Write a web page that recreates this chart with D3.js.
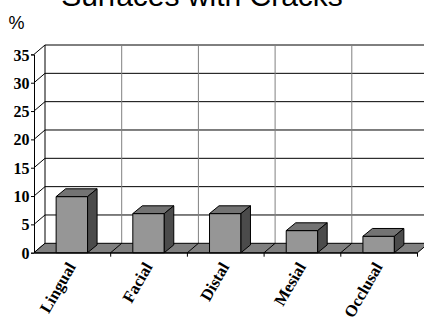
<!DOCTYPE html>
<html>
<head>
<meta charset="utf-8">
<script src="https://cdn.jsdelivr.net/npm/d3@7"></script>
<style>
  html, body { margin: 0; padding: 0; background: #fff; }
  svg { display: block; }
</style>
</head>
<body>
<svg id="chart" width="424" height="322"></svg>
<script>
// Share of surfaces with cracks, by tooth surface
const categories = ["Lingual", "Facial", "Distal", "Mesial", "Occlusal"];
const values = [9.9, 6.9, 6.9, 3.9, 2.9];
const yTicks = [0, 5, 10, 15, 20, 25, 30, 35];

const svg = d3.select("#chart");

// front plane of the pseudo-3D box
const x = d3.scaleBand().domain(categories).range([34, 417.5]).paddingInner(0).paddingOuter(0);
const y = d3.scaleLinear().domain([0, 35]).range([252.7, 54.4]);

// depth offsets (floor / wall depth and bar depth)
const DX = 11, DY = -9.4;
const BDX = 9.5, BDY = -7.8;
const barW = x.bandwidth() * 0.41;

// title and unit
svg.append("text")
  .attr("x", 202).attr("y", 6)
  .attr("text-anchor", "middle")
  .style("font-family", "'Liberation Sans', Arial, sans-serif")
  .style("font-size", "30px")
  .text("Surfaces with Cracks");

svg.append("text")
  .attr("x", 8.5).attr("y", 29)
  .style("font-family", "'Liberation Sans', Arial, sans-serif")
  .style("font-size", "18px")
  .text("%");

const g = svg.append("g");

// back wall horizontal gridlines
const x0b = x.range()[0] + DX, x1b = x.range()[1] + DX;
g.selectAll("line.hgrid").data(yTicks.filter(d => d > 0)).join("line")
  .attr("x1", x0b).attr("x2", x1b)
  .attr("y1", d => y(d) + DY).attr("y2", d => y(d) + DY)
  .attr("stroke", "#000").attr("stroke-width", 1);

// back wall vertical gridlines at category boundaries
const bounds = categories.map(c => x(c)).concat([x.range()[1]]);
g.selectAll("line.vgrid").data(bounds.slice(1)).join("line")
  .attr("x1", d => d + DX).attr("x2", d => d + DX)
  .attr("y1", y(35) + DY).attr("y2", y(0) + DY)
  .attr("stroke", "#808080").attr("stroke-width", 1);

// back wall left edge
g.append("line")
  .attr("x1", x0b).attr("x2", x0b)
  .attr("y1", y(35) + DY).attr("y2", y(0) + DY)
  .attr("stroke", "#000");

// side wall diagonals at each tick
g.selectAll("line.side").data(yTicks).join("line")
  .attr("x1", x.range()[0]).attr("y1", d => y(d))
  .attr("x2", x0b).attr("y2", d => y(d) + DY)
  .attr("stroke", "#000");

// floor
const fy = y(0);
g.append("path")
  .attr("d", `M${x.range()[0]},${fy}L${x.range()[1]},${fy}L${x1b},${fy + DY}L${x0b},${fy + DY}Z`)
  .attr("fill", "#808080").attr("stroke", "#000").attr("stroke-width", 1);

// floor gridlines
g.selectAll("line.fgrid").data(bounds.slice(1, -1)).join("line")
  .attr("x1", d => d).attr("y1", fy)
  .attr("x2", d => d + DX).attr("y2", fy + DY)
  .attr("stroke", "#000");

// bars
const bars = g.selectAll("g.bar").data(categories.map((c, i) => ({ c, v: values[i] }))).join("g");
bars.each(function (d) {
  const b = d3.select(this);
  const xl = x(d.c) + (x.bandwidth() - barW) / 2 - 0.5;
  const xr = xl + barW;
  const yt = y(d.v), yb = y(0);
  // front face
  b.append("path")
    .attr("d", `M${xl},${yb}L${xl},${yt}L${xr},${yt}L${xr},${yb}Z`)
    .attr("fill", "#969696").attr("stroke", "#000").attr("stroke-width", 1);
  // top face
  b.append("path")
    .attr("d", `M${xl},${yt}L${xl + BDX},${yt + BDY}L${xr + BDX},${yt + BDY}L${xr},${yt}Z`)
    .attr("fill", "#737373").attr("stroke", "#000").attr("stroke-width", 1);
  // side face
  b.append("path")
    .attr("d", `M${xr},${yt}L${xr + BDX},${yt + BDY}L${xr + BDX},${yb + BDY}L${xr},${yb}Z`)
    .attr("fill", "#4b4b4b").attr("stroke", "#000").attr("stroke-width", 1);
});

// front value axis
const yAxis = d3.axisLeft(y).tickValues(yTicks).tickSize(3).tickFormat(d3.format("d"));
const ya = svg.append("g").attr("transform", `translate(${x.range()[0]},0)`).call(yAxis);
ya.select(".domain").attr("stroke", "#000");
ya.selectAll("text")
  .attr("x", -4.5).attr("dy", "0.35em")
  .style("font-family", "'Liberation Serif', 'Times New Roman', serif")
  .style("font-size", "16px").style("font-weight", "bold").attr("fill", "#000");

// front category axis
const xAxis = d3.axisBottom(x).tickSize(4).tickSizeOuter(0).tickValues([]);
const xa = svg.append("g").attr("transform", `translate(0,${fy})`).call(xAxis);
xa.select(".domain").attr("stroke", "#000");
xa.selectAll("line.btick").data(bounds.slice(1)).join("line")
  .attr("x1", d => d).attr("x2", d => d).attr("y1", 0).attr("y2", 4)
  .attr("stroke", "#000");

// rotated category labels
svg.selectAll("text.cat").data(categories).join("text")
  .attr("class", "cat")
  .attr("transform", d => `translate(${x(d) + x.bandwidth() / 2 - 1},${fy + 11}) rotate(-60)`)
  .attr("text-anchor", "end")
  .attr("dy", "0.35em")
  .style("font-family", "'Liberation Serif', 'Times New Roman', serif")
  .style("font-size", "16.5px").style("font-weight", "bold")
  .text(d => d);
</script>
</body>
</html>
